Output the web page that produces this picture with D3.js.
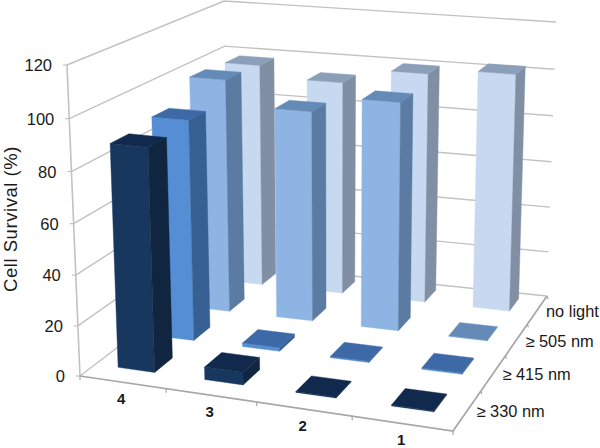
<!DOCTYPE html>
<html lang="en">
<head>
<meta charset="utf-8">
<title>Cell Survival</title>
<script src="https://cdn.jsdelivr.net/npm/d3@7"></script>
<style>
  html, body { margin: 0; background: #fff; }
  svg { display: block; }
  text { font-family: "Liberation Sans", Arial, sans-serif; fill: #1a1a1a; }
</style>
</head>
<body>
<script>
const categories = ["4", "3", "2", "1"];
const series = ["\u2265 330 nm", "\u2265 415 nm", "\u2265 505 nm", "no light"];
const valueTicks = [0, 20, 40, 60, 80, 100, 120];

// survival per category, front row to back row
const nm330 = [88.5, 5, 0.3, 0.3];
const nm415 = [90.5, 1.5, 0.5, 0.5];
const nm505 = [99, 88.8, 95.6, 0.3];
const noLight = [97.8, 93, 99.5, 102];
const rows = [nm330, nm415, nm505, noLight];

const frontColors = ["#17375e", "#558ed5", "#8eb4e3", "#c6d9f1"];
const sideColors = ["#10253f", "#376092", "#5b7ba3", "#808fa3"];
const topColors = ["#10294d", "#3d6aa6", "#648ab8", "#8c9fb8"];

const width = 600, height = 448;

// frame corners in the picture, [x, y, depth weight]; front/back, left/right, floor/top
const frame = {
  flb: [80, 376, 1], frb: [453, 431, 0.9], blb: [228, 263, 1.187], brb: [547, 296, 1.135],
  flt: [67, 65, 0.96], frt: [459, 103, 0.864], blt: [224, 1, 1.14], brt: [556, 22, 1.09]
};

const sx = d3.scaleBand().domain(categories).range([-0.008, 1.002]).paddingInner(0.572).paddingOuter(0.3);
const sd = d3.scaleBand().domain(series).range([0.02, 1.02]).paddingInner(0.56).paddingOuter(0.28);
const sh = d3.scaleLinear().domain([0, 120]).range([0, 1]);

// projective interpolation inside the frame box
function project(s, d, h) {
  let X = 0, Y = 0, W = 0;
  const add = (c, t) => { const w = t * c[2]; X += w * c[0]; Y += w * c[1]; W += w; };
  add(frame.flb, (1 - s) * (1 - d) * (1 - h));
  add(frame.frb, s * (1 - d) * (1 - h));
  add(frame.blb, (1 - s) * d * (1 - h));
  add(frame.brb, s * d * (1 - h));
  add(frame.flt, (1 - s) * (1 - d) * h);
  add(frame.frt, s * (1 - d) * h);
  add(frame.blt, (1 - s) * d * h);
  add(frame.brt, s * d * h);
  return [X / W, Y / W];
}

const line = d3.line();
const svg = d3.select("body").append("svg").attr("width", width).attr("height", height);

// wall gridlines
const grid = svg.append("g").attr("fill", "none").attr("stroke", "#c4c2c0").attr("stroke-width", 1.4);
grid.selectAll("path").data(valueTicks).join("path")
  .attr("d", v => line([project(0, 0, sh(v)), project(0, 1, sh(v)), project(1, 1, sh(v))]));

// left axis
svg.append("path").attr("fill", "none").attr("stroke", "#c4c2c0").attr("stroke-width", 1.6)
  .attr("d", line([project(0, 0, 0), project(0, 0, 1)]));
svg.append("g").selectAll("path").data(valueTicks).join("path")
  .attr("stroke", "#c4c2c0").attr("stroke-width", 1.2)
  .attr("d", v => { const p = project(0, 0, sh(v)); return line([[p[0] - 4, p[1]], p]); });

// floor edges and ticks
const floorColor = "#a9a7a5";
svg.append("path").attr("fill", "none").attr("stroke", floorColor).attr("stroke-width", 1.7)
  .attr("d", line([project(0, 0, 0), project(1, 0, 0), project(1, 1, 0)]));
svg.append("g").selectAll("path").data(d3.range(0, 5)).join("path")
  .attr("stroke", floorColor).attr("stroke-width", 1.2)
  .attr("d", i => { const p = project(i / 4, 0, 0); return line([p, [p[0], p[1] + 4]]); });
svg.append("g").selectAll("path").data(d3.range(1, 5)).join("path")
  .attr("stroke", floorColor).attr("stroke-width", 1.2)
  .attr("d", i => { const p = project(1, i / 4, 0); return line([p, [p[0] + 1, p[1] + 3]]); });

// bars, painted back to front
const bars = [];
series.forEach((name, r) => categories.forEach((cat, c) => {
  bars.push({ r, c, s0: sx(cat), s1: sx(cat) + sx.bandwidth(), d0: sd(name), d1: sd(name) + sd.bandwidth(), h: sh(rows[r][c]) });
}));
bars.sort((a, b) => b.r - a.r || a.c - b.c);

const barG = svg.append("g").selectAll("g").data(bars).join("g");
const face = (fill, pts) => function (b) {
  d3.select(this).append("path").attr("fill", fill(b)).attr("stroke", fill(b)).attr("stroke-width", 0.4)
    .attr("stroke-linejoin", "round").attr("d", line(pts(b)) + "Z");
};
barG.each(face(b => frontColors[b.r], b => [
  project(b.s0, b.d0, 0), project(b.s1, b.d0, 0), project(b.s1, b.d0, b.h), project(b.s0, b.d0, b.h)]));
barG.each(face(b => sideColors[b.r], b => [
  project(b.s1, b.d0, 0), project(b.s1, b.d1, 0), project(b.s1, b.d1, b.h), project(b.s1, b.d0, b.h)]));
barG.each(face(b => topColors[b.r], b => [
  project(b.s0, b.d0, b.h), project(b.s1, b.d0, b.h), project(b.s1, b.d1, b.h), project(b.s0, b.d1, b.h)]));

// value labels
svg.append("g").attr("font-size", 16.5).attr("text-anchor", "end").selectAll("text").data(valueTicks).join("text")
  .attr("x", v => project(0, 0, sh(v))[0] - 15)
  .attr("y", v => project(0, 0, sh(v))[1] + 6)
  .text(v => v);

svg.append("text").attr("font-size", 18.5).attr("letter-spacing", 0.55).attr("text-anchor", "middle")
  .attr("transform", "translate(16.5,219) rotate(-90)")
  .text("Cell Survival (%)");

// category labels under the front edge
svg.append("g").attr("font-size", 15).attr("font-weight", "bold").attr("text-anchor", "middle")
  .selectAll("text").data(categories).join("text")
  .attr("x", c => project(sx(c) + sx.bandwidth() / 2, 0, 0)[0])
  .attr("y", c => project(sx(c) + sx.bandwidth() / 2, 0, 0)[1] + 22)
  .text(c => c);

// series labels beside the right edge
svg.append("g").attr("font-size", 16.4).selectAll("text").data(series).join("text")
  .attr("x", s => project(1, sd(s) + sd.bandwidth() / 2, 0)[0] + 7)
  .attr("y", s => project(1, sd(s) + sd.bandwidth() / 2, 0)[1] + 9.5)
  .text(s => s);
</script>
</body>
</html>
